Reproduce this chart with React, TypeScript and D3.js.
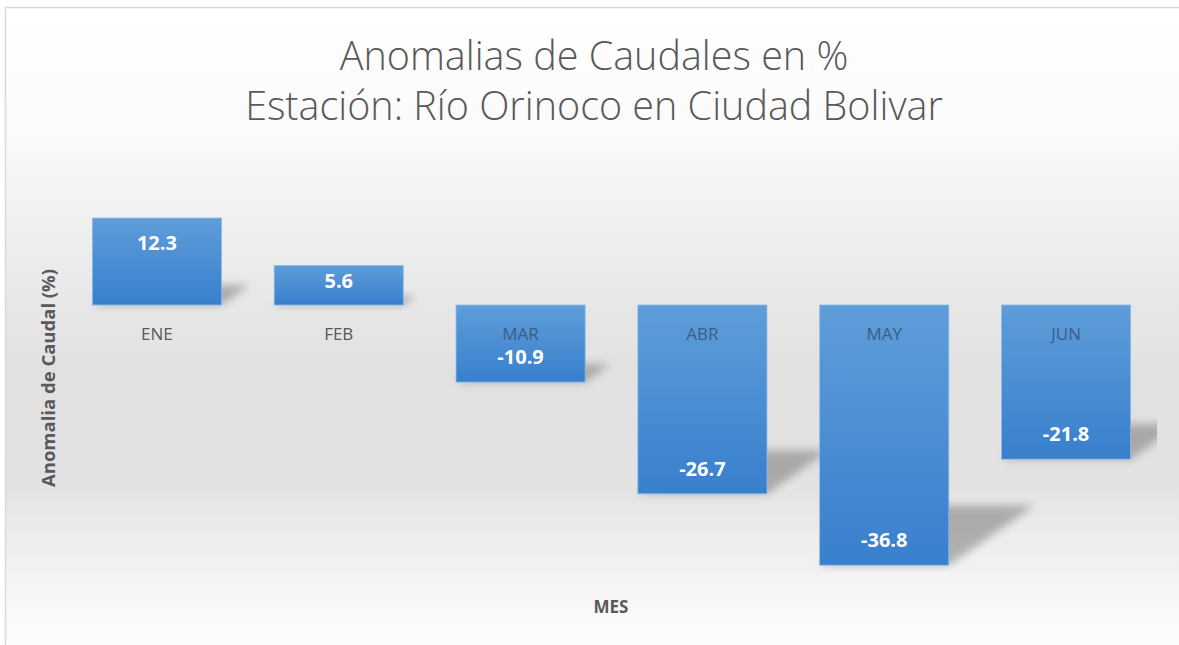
import React from "react";
import * as d3 from "d3";

const categories = ["ENE", "FEB", "MAR", "ABR", "MAY", "JUN"];
const values = [12.3, 5.6, -10.9, -26.7, -36.8, -21.8];
const titleLines = ["Anomalias de Caudales en %", "Estación: Río Orinoco en Ciudad Bolivar"];
const yAxisTitle = "Anomalia de Caudal (%)";
const xAxisTitle = "MES";

const W = 1179;
const H = 645;
const plot = { left: 66, right: 1157, top: 150, bottom: 600 };

export default function App() {
  const x = d3
    .scaleBand<string>()
    .domain(categories)
    .range([plot.left, plot.right])
    .paddingInner(0.29)
    .paddingOuter(0.145);
  const y = d3.scaleLinear().domain([-40, 20]).range([587.8, 163.6]);
  const y0 = y(0);
  const font = "'Open Sans', 'Liberation Sans', sans-serif";

  const data = categories.map((c, i) => {
    const v = values[i];
    const x0 = x(c)!;
    const w = x.bandwidth();
    const top = Math.min(y(v), y0);
    const bottom = Math.max(y(v), y0);
    const h = bottom - top;
    const hh = h * 0.23;
    const s = hh * 1.43;
    const shadow = [
      [x0, bottom],
      [x0 + w, bottom],
      [x0 + w + s, bottom - hh],
      [x0 + s, bottom - hh],
    ];
    const inset = Math.min(25, h / 2 - 4);
    const labelY = v >= 0 ? top + inset : bottom - inset;
    return { c, v, x0, w, top, bottom, h, shadow, labelY };
  });

  return (
    <div style={{ position: "absolute", left: 0, top: 0 }}>
      <svg width={W} height={H} style={{ display: "block" }}>
        <defs>
          <linearGradient id="bg" x1="0" y1="0" x2="0" y2="1">
            <stop offset="0%" stopColor="#ffffff" />
            <stop offset="18%" stopColor="#fbfbfb" />
            <stop offset="35%" stopColor="#eeeeee" />
            <stop offset="55%" stopColor="#e1e1e1" />
            <stop offset="72%" stopColor="#e2e2e2" />
            <stop offset="88%" stopColor="#f5f5f5" />
            <stop offset="100%" stopColor="#ffffff" />
          </linearGradient>
          <linearGradient id="barGrad" x1="0" y1="0" x2="0" y2="1">
            <stop offset="0%" stopColor="#5e9dd9" />
            <stop offset="100%" stopColor="#387fcd" />
          </linearGradient>
          <filter id="blur" x="-30%" y="-60%" width="160%" height="220%">
            <feGaussianBlur stdDeviation="4" />
          </filter>
          <clipPath id="plotClip">
            <rect x={plot.left} y={0} width={plot.right - plot.left} height={H} />
          </clipPath>
        </defs>
        <rect x={0} y={0} width={W} height={H} fill="#ffffff" />
        <rect x={5.5} y={7.5} width={W + 10} height={H + 10} fill="url(#bg)" stroke="#d9d9d9" strokeWidth={1.5} />

        {titleLines.map((t, i) => (
          <text
            key={t}
            x={594}
            y={70 + i * 50}
            textAnchor="middle"
            fontFamily={font}
            fontWeight={300}
            fontSize={39.5}
            fill="#595959"
          >
            {t}
          </text>
        ))}

        <g clipPath="url(#plotClip)">
          {data.map((d) => (
            <polygon
              key={"s" + d.c}
              points={d.shadow.map((p) => p.join(",")).join(" ")}
              fill="#7a7a7a"
              opacity={0.55}
              filter="url(#blur)"
            />
          ))}
        </g>

        {data.map((d) => (
          <rect
            key={"b" + d.c}
            x={d.x0}
            y={d.top}
            width={d.w}
            height={d.h}
            fill="url(#barGrad)"
            stroke="#8cbbe8"
            strokeWidth={0.8}
          />
        ))}

        {data.map((d) => (
          <text
            key={"c" + d.c}
            x={d.x0 + d.w / 2}
            y={340}
            textAnchor="middle"
            fontFamily={font}
            fontSize={17}
            fill={d.v < 0 ? "#3e5d84" : "#595959"}
          >
            {d.c}
          </text>
        ))}

        {data.map((d) => (
          <text
            key={"v" + d.c}
            x={d.x0 + d.w / 2}
            y={d.labelY}
            dy="0.36em"
            textAnchor="middle"
            fontFamily={font}
            fontWeight={700}
            fontSize={20}
            fill="#ffffff"
          >
            {d.v.toFixed(1)}
          </text>
        ))}

        <text
          transform={`translate(55,378) rotate(-90)`}
          textAnchor="middle"
          fontFamily={font}
          fontWeight={700}
          fontSize={18.5}
          fill="#595959"
        >
          {yAxisTitle}
        </text>
        <text
          x={611}
          y={613}
          textAnchor="middle"
          fontFamily={font}
          fontWeight={700}
          fontSize={17}
          fill="#595959"
        >
          {xAxisTitle}
        </text>
      </svg>
    </div>
  );
}
